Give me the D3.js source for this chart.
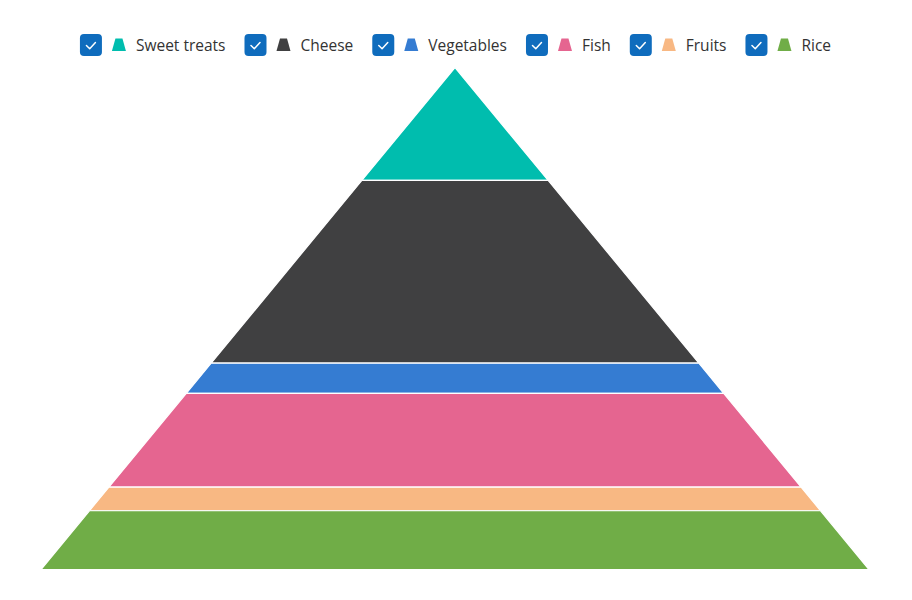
<!DOCTYPE html>
<html>
<head>
<meta charset="utf-8">
<script src="https://cdn.jsdelivr.net/npm/d3@7"></script>
<style>
  html, body { margin: 0; padding: 0; background: #fff; }
  svg { display: block; }
</style>
</head>
<body>
<div id="chart"></div>
<script>
const categories = ["Sweet treats", "Cheese", "Vegetables", "Fish", "Fruits", "Rice"];
const values = [22.5, 36.4, 6.0, 18.7, 4.7, 11.7];
const colors = ["#00BDAE", "#404041", "#357CD2", "#E56590", "#F8B883", "#70AD47"];

const W = 912, H = 600;
const svg = d3.select("#chart").append("svg").attr("width", W).attr("height", H);

// Pyramid geometry
const cx = 455, topY = 67.5, baseY = 569.5, baseHalf = 414;
const total = d3.sum(values);
const y = d3.scaleLinear().domain([0, total]).range([topY, baseY]);
const halfW = d3.scaleLinear().domain([0, total]).range([0, baseHalf]);

let cum = 0;
const segs = values.map((v, i) => {
  const s = { i, start: cum, end: cum + v };
  cum += v;
  return s;
});

const g = svg.append("g");
g.selectAll("path.seg").data(segs).join("path")
  .attr("class", "seg")
  .attr("d", d => {
    const y0 = y(d.start), y1 = y(d.end);
    const w0 = halfW(d.start), w1 = halfW(d.end);
    return `M${cx - w0},${y0}L${cx + w0},${y0}L${cx + w1},${y1}L${cx - w1},${y1}Z`;
  })
  .attr("fill", d => colors[d.i])
  .attr("stroke", "#fff")
  .attr("stroke-width", 1.2);

// Legend
const fontFam = "'Segoe UI', 'Open Sans', 'Noto Sans', sans-serif";
const legend = svg.append("g");
const items = legend.selectAll("g.item").data(categories).join("g").attr("class", "item");
items.append("text")
  .text(d => d)
  .attr("font-family", fontFam)
  .attr("font-size", 15.5)
  .attr("fill", "#333");
const widths = [];
items.select("text").each(function () { widths.push(this.getComputedTextLength()); });
const boxW = 22, gap1 = 10, markW = 14, gap2 = 10, gapItem = 19;
const itemW = widths.map(w => boxW + gap1 + markW + gap2 + w);
const totalW = d3.sum(itemW) + gapItem * (categories.length - 1);
let x0 = 455.5 - totalW / 2;
const legY = 45;
items.each(function (d, i) {
  const it = d3.select(this);
  it.attr("transform", `translate(${x0},${legY})`);
  it.insert("rect", "text")
    .attr("x", 0).attr("y", -11).attr("width", boxW).attr("height", boxW)
    .attr("rx", 4).attr("fill", "#0F6CBD");
  it.insert("path", "text")
    .attr("d", "M6.5,0.5L9.8,3.8L15.5,-2.5")
    .attr("fill", "none").attr("stroke", "#fff").attr("stroke-width", 1.5)
    .attr("stroke-linecap", "round").attr("stroke-linejoin", "round");
  const mx = boxW + gap1;
  it.insert("path", "text")
    .attr("d", `M${mx + 3.5},-6.5L${mx + 10.5},-6.5L${mx + 14},6L${mx},6Z`)
    .attr("fill", colors[i]);
  it.select("text").attr("x", mx + markW + gap2).attr("y", 5.5);
  x0 += itemW[i] + gapItem;
});
</script>
</body>
</html>
